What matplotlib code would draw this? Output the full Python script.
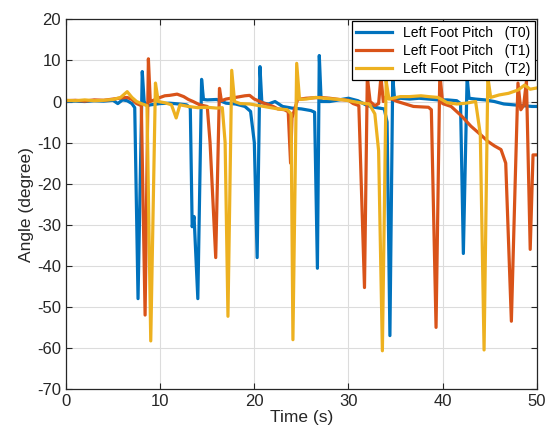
import matplotlib
matplotlib.use("Agg")
import matplotlib.pyplot as plt

plt.rcParams['font.family'] = ['Liberation Sans', 'DejaVu Sans']
plt.rcParams['axes.unicode_minus'] = False

# Left foot pitch, trial T0 (time in s, angle in degree)
t0 = [0, 1, 2, 3, 4, 5, 5.5, 6, 6.5, 7,
      7.3, 7.65, 8.1, 8.3, 8.6, 9, 10, 11, 12, 12.8,
      13.2, 13.4, 13.6, 14.0, 14.4, 14.6, 15, 16, 17, 18,
      19, 19.6, 20.0, 20.3, 20.6, 20.8, 21.5, 22.2, 23, 24,
      25, 26, 26.4, 26.7, 26.9, 27.1, 28, 29, 30, 31,
      32, 33, 33.8, 34.1, 34.4, 34.7, 34.9, 35.5, 36.5, 37.5,
      38.5, 39.5, 40.5, 41.5, 41.9, 42.2, 42.6, 42.8, 43.5, 44.5,
      45.5, 46.5, 47.5, 48.5, 49.5, 50]
y0 = [0, 0.1, 0, 0.2, 0.1, 0.3, -0.5, 0.4, 0.2, -0.5,
      -1.5, -48, 7.3, 0, -1, -0.8, -0.5, -0.4, -0.6, -0.8,
      -1.5, -30.5, -28, -48, 5.4, 0.5, 0.4, 0.5, -0.4, -0.6,
      -1.2, -2.4, -10, -38, 8.5, -0.3, -0.6, 0, -1.2, -1.6,
      -1.8, -2.2, -2.6, -40.6, 11.2, 0, 0, 0.4, 0.8, 0.2,
      -1.0, -1.5, -1.8, -5, -57, 6, 0.4, 0.8, 0.6, 0.8,
      0.6, 0.4, 0.4, 0.2, -0.5, -37, 6, 0.8, 0.6, 0.4,
      0, -0.6, -0.8, -1, -1.2, -1.2]

# trial T1
t1 = [0, 1, 2, 3, 4, 5, 6, 6.5, 7, 7.5,
      8.0, 8.4, 8.75, 8.95, 9.5, 10, 10.5, 11, 11.8, 12.5,
      13, 13.5, 14.2, 15.0, 15.3, 15.9, 16.3, 16.5, 17, 18,
      19, 19.5, 20, 21, 22, 22.5, 23.2, 23.6, 23.85, 24.0,
      24.6, 25.5, 27, 28, 29, 30, 30.5, 31.1, 31.7, 32.0,
      32.3, 32.8, 33.2, 33.45, 33.7, 34, 35.2, 36.9, 38.5, 38.8,
      39.3, 39.7, 40.0, 40.9, 42, 43, 44, 44.8, 45.5, 46.2,
      46.7, 47.3, 47.7, 48.0, 48.3, 48.6, 48.9, 49.3, 49.6, 50]
y1 = [0.2, 0.3, 0.1, 0.4, 0.3, 0.6, 0.9, 1.0, 0.5, -0.5,
      -1, -52, 10.4, 0, 0.5, 1.0, 1.4, 1.5, 1.8, 1.2,
      0.5, 0, -0.8, -1.2, -10, -38, 3.2, 0.2, 0.6, 1.0,
      1.4, 1.5, 0.6, -0.4, -1.2, -1.8, -2.0, -2.5, -15, -4,
      0.5, 0.8, 1.0, 0.8, 0.5, 0.3, -0.5, -1.0, -45.3, 6,
      0, -1, -0.5, 6, 0, 1.2, 0, -1.2, -1.4, -2,
      -55, 7, -0.5, -1.2, -3.5, -6, -8, -9.7, -10.8, -11.7,
      -15, -53.5, -20, 4.5, -2, -1, 5, -36, -13, -13]

# trial T2
t2 = [0, 1, 2, 3, 4, 5, 5.8, 6.5, 7.0, 7.5,
      8.0, 8.6, 9.0, 9.5, 9.8, 10.5, 11.2, 11.7, 12.1, 13,
      14, 15, 16, 16.6, 16.9, 17.2, 17.6, 17.9, 18.5, 19.5,
      20.5, 21.5, 22.5, 23.5, 23.9, 24.1, 24.5, 24.8, 25.5, 26.5,
      27.5, 28.5, 29.5, 30.5, 31.5, 32.2, 32.8, 33.2, 33.6, 34.0,
      34.3, 35.5, 36.5, 37.7, 38.5, 39.5, 40.5, 41.5, 42.5, 43.5,
      44.0, 44.4, 44.8, 45.1, 46, 47, 48, 48.7, 49.3, 50]
y2 = [0.3, 0.2, 0.4, 0.2, 0.3, 0.5, 1.0, 2.4, 1.0, 0,
      -0.5, -1.0, -58.3, 4.5, 0, -0.3, -0.8, -4, -0.8, -1.2,
      -1.5, -1.4, -1.6, -1.5, -10, -52.3, 7.6, 0, -0.5, -0.6,
      -1.0, -1.4, -1.8, -2.0, -3, -58, 9.3, 0.5, 0.6, 1.0,
      0.8, 0.6, 0.4, 0, -0.4, -0.6, -3, -12, -60.7, 5,
      0.6, 1.2, 1.2, 1.4, 1.2, 1.0, -0.3, -0.6, -0.4, 0,
      -8, -60.5, 6, 1.0, 1.6, 2.0, 2.8, 4.0, 3.0, 3.3]

labels = ['Left Foot Pitch   (T0)', 'Left Foot Pitch   (T1)', 'Left Foot Pitch   (T2)']
colors = ['#0072BD', '#D95319', '#EDB120']

fig = plt.figure(figsize=(5.5, 4.41), dpi=100)
ax = fig.add_axes([0.12, 0.118, 0.856, 0.838])

for t, y, lab, c in zip([t0, t1, t2], [y0, y1, y2], labels, colors):
    ax.plot(t, y, color=c, linewidth=2.3, label=lab)

ax.set_xlim(0, 50)
ax.set_ylim(-70, 20)
ax.set_xticks(range(0, 51, 10))
ax.set_yticks(range(-70, 21, 10))
ax.grid(True, color='#dcdcdc', linewidth=0.8)
ax.set_axisbelow(True)
ax.tick_params(direction='in', top=True, right=True, length=4,
               labelsize=12, colors='#262626', width=0.8)
for s in ax.spines.values():
    s.set_color('#262626')
    s.set_linewidth(0.9)

ax.set_xlabel('Time (s)', fontsize=12.5, color='#262626', labelpad=1)
ax.set_ylabel('Angle (degree)', fontsize=12.5, color='#262626', labelpad=2)

leg = ax.legend(loc='upper right', fontsize=10, fancybox=False, framealpha=1,
                edgecolor='black', borderaxespad=0.15, handlelength=2.6,
                labelspacing=0.3, borderpad=0.3)
leg.get_frame().set_linewidth(0.9)

fig.savefig('out.png', dpi=100)
